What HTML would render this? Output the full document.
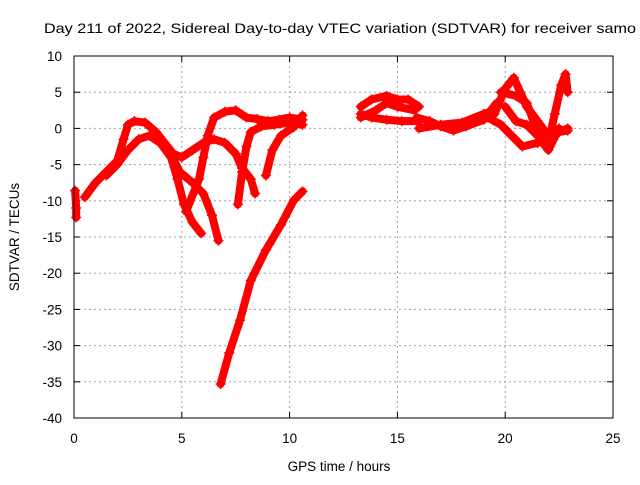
<!DOCTYPE html>
<html><head><meta charset="utf-8"><style>
body{margin:0;background:#fff}
svg text{font-family:"Liberation Sans",sans-serif;font-size:13.5px;fill:#000}
</style></head><body>
<svg id="c" width="640" height="480" xmlns="http://www.w3.org/2000/svg">
<text x="44" y="33" textLength="592" lengthAdjust="spacingAndGlyphs" style="font-size:14px">Day 211 of 2022, Sidereal Day-to-day VTEC variation (SDTVAR) for receiver samo</text>
<text x="339" y="471" text-anchor="middle">GPS time / hours</text>
<text transform="translate(19,237) rotate(-90)" text-anchor="middle">SDTVAR / TECUs</text>
<g id="grid"></g><g id="marks"></g>
<rect x="74" y="56" width="539" height="362" fill="none" stroke="#000" stroke-width="1"/>
</svg>
<script>
const xTicks=[0,5,10,15,20,25];
const yTicks=[10,5,0,-5,-10,-15,-20,-25,-30,-35,-40];
const trackA=[[0.5,-9.5],[1,-7.5],[1.5,-6],[2,-4.5],[2.3,-1.5],[2.5,0.5],[2.8,1],[3.3,0.8],[3.8,-0.5],[4.2,-2],[4.6,-3.5],[5,-4],[5.5,-3],[6,-2],[6.5,-1.5],[7,-2],[7.5,-3.5],[7.8,-5.5],[8.2,-7],[8.4,-9]];
const trackB=[[1.5,-6.5],[2,-5],[2.5,-3],[3,-1.5],[3.5,-1],[4,-2],[4.5,-4],[4.8,-7],[5.1,-10.5],[5.5,-13],[5.9,-14.5]];
const trackC=[[4.4,-3],[4.9,-6],[5.5,-7.5],[6,-9],[6.4,-12],[6.7,-15.5]];
const trackD=[[5.2,-11.5],[5.8,-7],[6,-4],[6.2,-1],[6.5,1.5],[7,2.3],[7.5,2.5],[8,1.5],[8.5,1.3],[9,1],[9.5,1.2],[10,1.5],[10.6,1.2]];
const trackE=[[7.6,-10.5],[7.8,-6],[8,-2.5],[8.2,-0.5],[8.7,0.3],[9.3,0.5],[10,0.8],[10.6,0.5]];
const trackF=[[8.9,-6.5],[9.2,-3],[9.6,-1],[10.2,0.2],[10.6,1.8]];
const trackG=[[6.8,-35.3],[7.2,-31],[7.7,-26.5],[8.2,-21],[8.9,-16.8],[9.6,-13.3],[10.2,-9.9],[10.6,-8.7]];
const trackH=[[0.05,-8.6],[0.1,-11],[0.1,-12.3]];
const trackI=[[13.3,3],[13.8,4],[14.5,4.5],[15,4],[15.5,4],[16,3]];
const trackJ=[[13.3,2],[13.8,1.5],[14.5,1.2],[15.2,1],[16,1]];
const trackK=[[13.3,1.5],[14,2.5],[14.5,3.5],[15,3],[15.8,2.5]];
const trackL=[[15.9,1.5],[16.5,1],[17,0.3],[17.6,-0.3],[18.2,0.3],[19,1.2],[19.6,3.5]];
const trackM=[[16,0],[17,0.5],[18,0.8],[19,2],[19.5,2.5]];
const trackR1=[[19.5,2],[20,5.5],[20.4,7],[20.7,5],[21,3],[21.5,1],[22,-1],[22.5,-0.5],[22.9,0]];
const trackR2=[[19.8,5],[20.5,4.5],[21,3.5],[21.5,-0.5],[22,-2],[22.3,2],[22.6,6],[22.8,7.5],[22.9,5]];
const trackR3=[[19.2,1.5],[19.8,0.5],[20.3,-1],[20.8,-2.5],[21.5,-2],[22,-1.5],[22.5,-0.5],[22.9,-0.3]];
const trackR4=[[20,3],[20.5,1],[21,0.5],[21.5,-1],[22,-3],[22.5,0]];
const tracks=[trackA,trackB,trackC,trackD,trackE,trackF,trackG,trackH,trackI,trackJ,trackK,trackL,trackM,trackR1,trackR2,trackR3,trackR4];
const NS="http://www.w3.org/2000/svg";
const X=v=>74+v*(539/25), Y=v=>56+(10-v)*(362/50);
const grid=document.getElementById('grid'),marks=document.getElementById('marks');
function mk(t,a,p){const e=document.createElementNS(NS,t);for(const k in a)e.setAttribute(k,a[k]);p.appendChild(e);return e;}
xTicks.forEach(t=>{
 if(t>0&&t<25){const l=mk('line',{x1:X(t),x2:X(t),y1:56,y2:418,stroke:'#a0a0a0','stroke-dasharray':'2,3'},grid);
 
 }
 mk('line',{x1:X(t),x2:X(t),y1:418,y2:412,stroke:'#000'},grid);
 mk('line',{x1:X(t),x2:X(t),y1:56,y2:62,stroke:'#000'},grid);
 const tx=mk('text',{x:X(t),y:443,'text-anchor':'middle'},grid);tx.textContent=t;
 
 
});
yTicks.forEach(t=>{
 if(t<10&&t>-40){const l=mk('line',{x1:74,x2:613,y1:Y(t),y2:Y(t),stroke:'#a0a0a0','stroke-dasharray':'2,3'},grid);
 
 }
 mk('line',{x1:74,x2:80,y1:Y(t),y2:Y(t),stroke:'#000'},grid);
 mk('line',{x1:607,x2:613,y1:Y(t),y2:Y(t),stroke:'#000'},grid);
 const tx=mk('text',{x:62,y:Y(t)+5,'text-anchor':'end'},grid);tx.textContent=t;
 
 
});
tracks.forEach(tr=>{
 const p=mk('polyline',{points:tr.map(d=>X(d[0])+','+Y(d[1])).join(' '),fill:'none',stroke:'#f00','stroke-width':8,'stroke-linejoin':'round','stroke-linecap':'round'},marks);
 
 
 tr.forEach(d=>{const x=X(d[0]),y=Y(d[1]);
  const m=mk('path',{d:`M${x-5},${y}H${x+5}M${x},${y-5}V${y+5}`,stroke:'#f00','stroke-width':1.5},marks);
  
  });
});
</script>
</body></html>
